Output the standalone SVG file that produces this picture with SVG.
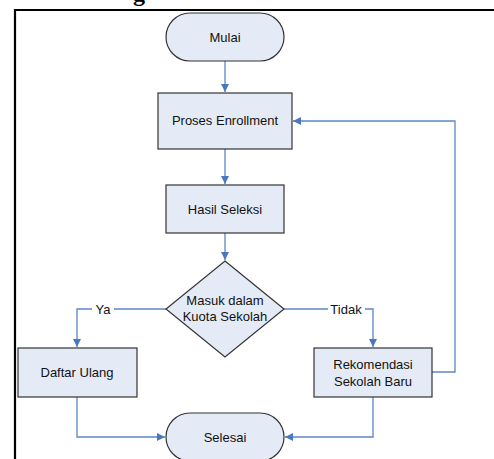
<svg xmlns="http://www.w3.org/2000/svg" width="494" height="459" viewBox="0 0 494 459">
<style>
.n{fill:#E5EBF6;stroke:#333;stroke-width:1.2}
.t{font-family:"Liberation Sans",Arial,sans-serif;font-size:13px;fill:#111;text-anchor:middle}
.c{fill:none;stroke:#5B87C8;stroke-width:1.3}
.lb{font-family:"Liberation Sans",Arial,sans-serif;font-size:13px;fill:#111;text-anchor:middle}
</style>
<defs>
<marker id="ah" markerWidth="10" markerHeight="10" refX="8" refY="4" orient="auto" markerUnits="userSpaceOnUse">
<path d="M0,0 L8,4 L0,8 Z" fill="#4A78C0"/>
</marker>
</defs>
<rect width="494" height="459" fill="#fff"/>
<text x="133" y="1" font-family="'Liberation Serif',serif" font-weight="bold" font-size="24" fill="#000">g</text>
<path d="M15,470 V10 H500" fill="none" stroke="#000" stroke-width="2.2"/>
<g id="connectors">
<path class="c" d="M225,61 V92" marker-end="url(#ah)"/>
<path class="c" d="M225,149 V184" marker-end="url(#ah)"/>
<path class="c" d="M225,233 V260" marker-end="url(#ah)"/>
<path class="c" d="M166,309 H77 V347" marker-end="url(#ah)"/>
<path class="c" d="M284,309 H373 V347" marker-end="url(#ah)"/>
<path class="c" d="M432,372 H455 V121 H293" marker-end="url(#ah)"/>
<path class="c" d="M77,397 V437 H165" marker-end="url(#ah)"/>
<path class="c" d="M373,397 V437 H285" marker-end="url(#ah)"/>
<rect x="92" y="301" width="22" height="16" fill="#fff"/>
<text class="lb" x="103" y="314">Ya</text>
<rect x="328" y="301" width="37" height="16" fill="#fff"/>
<text class="lb" x="346" y="314">Tidak</text>
</g>
<g id="mulai">
<rect class="n" x="166" y="13" width="118" height="48" rx="24" ry="24"/>
<text class="t" x="225" y="41.5">Mulai</text>
</g>
<g id="proses">
<rect class="n" x="158" y="93" width="134" height="56"/>
<text class="t" x="225" y="125">Proses Enrollment</text>
</g>
<g id="hasil">
<rect class="n" x="166" y="185" width="118" height="48"/>
<text class="t" x="225" y="213.5">Hasil Seleksi</text>
</g>
<g id="keputusan">
<polygon class="n" points="225,261 284,309 225,357 166,309"/>
<text class="t" x="225" y="305">Masuk dalam</text>
<text class="t" x="225" y="321">Kuota Sekolah</text>
</g>
<g id="daftar">
<rect class="n" x="18" y="348" width="119" height="49"/>
<text class="t" x="77" y="377">Daftar Ulang</text>
</g>
<g id="rekomendasi">
<rect class="n" x="314" y="348" width="118" height="49"/>
<text class="t" x="373" y="369">Rekomendasi</text>
<text class="t" x="373" y="386">Sekolah Baru</text>
</g>
<g id="selesai">
<rect class="n" x="166" y="413" width="118" height="48" rx="24" ry="24"/>
<text class="t" x="225" y="441.5">Selesai</text>
</g>
</svg>
